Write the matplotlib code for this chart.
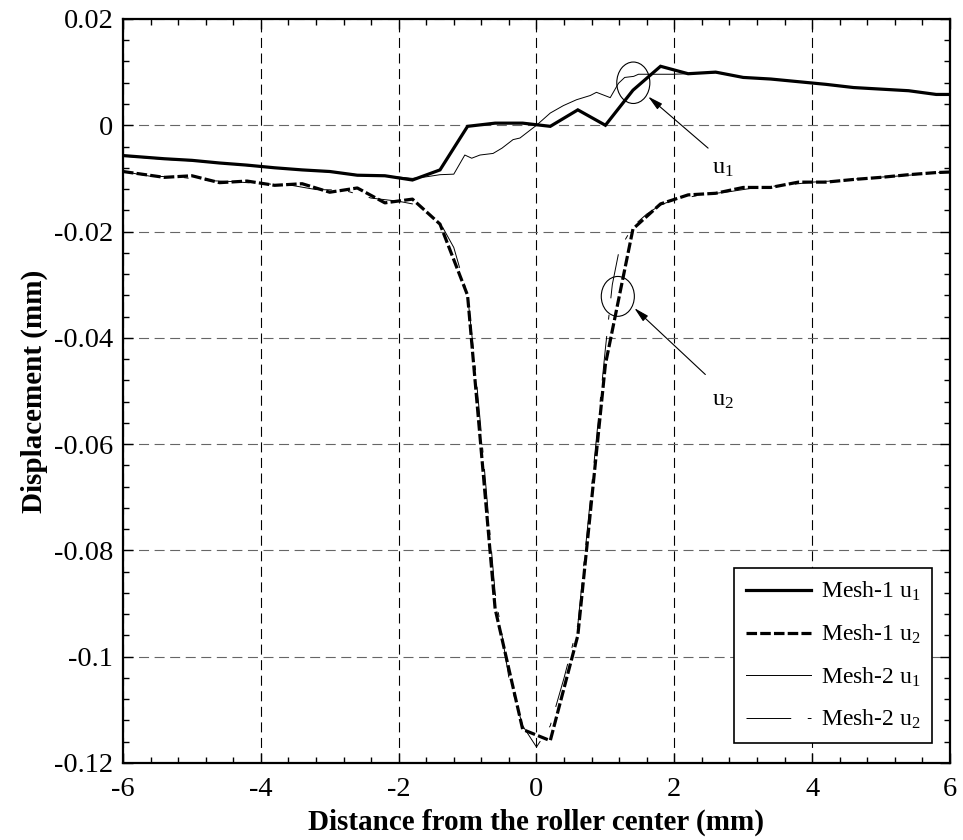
import matplotlib
matplotlib.use("Agg")
import matplotlib.pyplot as plt
from matplotlib.patches import Ellipse

plt.rcParams['font.family'] = ['Liberation Serif', 'DejaVu Serif']
plt.rcParams['mathtext.fontset'] = 'custom'
plt.rcParams['mathtext.rm'] = 'Liberation Serif'
plt.rcParams['mathtext.it'] = 'Liberation Serif'

# ---------------- data ----------------
x_m1 = [-6.0, -5.4, -5.0, -4.6, -4.2, -3.8, -3.4, -3.0, -2.6, -2.2, -1.8, -1.4, -1.0, -0.6, -0.2,
        0.2, 0.6, 1.0, 1.4, 1.8, 2.2, 2.6, 3.0, 3.4, 3.8, 4.2, 4.6, 5.0, 5.4, 5.8, 6.0]
m1_u1 = [-0.0057, -0.0063, -0.0066, -0.0071, -0.0075, -0.0080, -0.0084, -0.0087, -0.0094, -0.0095,
         -0.0103, -0.0084, -0.0002, 0.0004, 0.0004, -0.0002, 0.0029, 0.0000, 0.0066, 0.0111,
         0.0097, 0.0100, 0.0090, 0.0087, 0.0082, 0.0077, 0.0071, 0.0068, 0.0065, 0.0058, 0.0058]
m1_u2 = [-0.0087, -0.0098, -0.0095, -0.0108, -0.0105, -0.0113, -0.0110, -0.0126, -0.0118, -0.0146,
         -0.0139, -0.0186, -0.0320, -0.0910, -0.1137, -0.1158, -0.0960, -0.0450, -0.0195, -0.0148,
         -0.0131, -0.0128, -0.0117, -0.0117, -0.0107, -0.0107, -0.0102, -0.0098, -0.0093, -0.0089, -0.0088]

x_m2_u1 = [-6.0, -5.4, -5.0, -4.6, -4.2, -3.8, -3.4, -3.0, -2.6, -2.2, -1.8, -1.6, -1.4, -1.2,
           -1.04, -0.94, -0.82, -0.63, -0.5, -0.34, -0.24, 0.0, 0.2, 0.39, 0.58, 0.78, 0.87,
           1.07, 1.19, 1.28, 1.41, 1.48, 1.62, 1.98, 2.2, 2.6, 3.0, 3.4, 3.8, 4.2, 4.6, 5.0,
           5.4, 5.8, 6.0]
m2_u1 = [-0.0058, -0.0064, -0.0067, -0.0071, -0.0076, -0.0080, -0.0084, -0.0088, -0.0093, -0.0095,
         -0.0100, -0.0097, -0.0093, -0.0092, -0.0056, -0.0062, -0.0056, -0.0053, -0.0043, -0.0027,
         -0.0024, 0.0000, 0.0023, 0.0037, 0.0048, 0.0056, 0.0062, 0.0052, 0.0079, 0.0090, 0.0092,
         0.0096, 0.0096, 0.0096, 0.0097, 0.0099, 0.0090, 0.0087, 0.0082, 0.0077, 0.0071, 0.0068,
         0.0065, 0.0058, 0.0058]

x_m2_u2 = [-6.0, -5.6, -5.2, -4.8, -4.4, -4.0, -3.6, -3.2, -2.8, -2.4, -2.0, -1.8, -1.6, -1.4,
           -1.2, -1.0, -0.9, -0.8, -0.6, -0.4, -0.2, 0.0, 0.2, 0.4, 0.6, 0.8, 1.0, 1.1, 1.2,
           1.4, 1.6, 1.8, 2.0, 2.4, 2.8, 3.2, 3.6, 4.0, 4.4, 4.8, 5.2, 5.6, 6.0]
m2_u2 = [-0.0087, -0.0096, -0.0097, -0.0104, -0.0106, -0.0110, -0.0112, -0.0121, -0.0122, -0.0137,
         -0.0143, -0.0148, -0.0162, -0.0183, -0.0230, -0.0320, -0.0440, -0.0580, -0.0880, -0.1040,
         -0.1130, -0.1170, -0.1130, -0.1040, -0.0940, -0.0680, -0.0420, -0.0300, -0.0235, -0.0190,
         -0.0167, -0.0150, -0.0140, -0.0131, -0.0125, -0.0117, -0.0113, -0.0107, -0.0104, -0.0099,
         -0.0096, -0.0092, -0.0087]

x_ticks = [-6, -4, -2, 0, 2, 4, 6]
y_ticks = [0.02, 0, -0.02, -0.04, -0.06, -0.08, -0.1, -0.12]
y_tick_labels = ['0.02', '0', '-0.02', '-0.04', '-0.06', '-0.08', '-0.1', '-0.12']
legend_labels = [r'Mesh-1 u$_{1}$', r'Mesh-1 u$_{2}$', r'Mesh-2 u$_{1}$', r'Mesh-2 u$_{2}$']

# ---------------- figure ----------------
fig = plt.figure(figsize=(9.63, 8.4), dpi=100)
ax = fig.add_axes([0.1277, 0.0917, 0.8588, 0.8857])

l1, = ax.plot(x_m1, m1_u1, color='k', lw=2.3, solid_joinstyle='miter', zorder=4)
l2, = ax.plot(x_m1, m1_u2, color='k', lw=2.3, dashes=(3.3, 1.0), zorder=4)
l3, = ax.plot(x_m2_u1, m2_u1, color='k', lw=0.7, zorder=5)
l4, = ax.plot(x_m2_u2, m2_u2, color='k', lw=0.7, dashes=(46, 17, 5, 17), zorder=5)

ax.set_xlim(-6, 6)
ax.set_ylim(-0.12, 0.02)
ax.set_xticks(x_ticks)
ax.set_xticklabels([str(v) for v in x_ticks])
ax.set_yticks(y_ticks)
ax.set_yticklabels(y_tick_labels)
ax.xaxis.set_minor_locator(matplotlib.ticker.MultipleLocator(0.4))
ax.yaxis.set_minor_locator(matplotlib.ticker.MultipleLocator(0.004))
ax.tick_params(which='both', direction='in', top=True, right=True, labelsize=20.5, width=1.0)
ax.tick_params(axis='x', which='major', pad=10)
ax.tick_params(axis='y', which='major', pad=7)
ax.tick_params(which='major', length=7)
ax.tick_params(which='minor', length=4)
for s in ax.spines.values():
    s.set_linewidth(1.6)

ax.xaxis.grid(True, color='k', linestyle=(0, (9, 5)), lw=0.8)
ax.yaxis.grid(True, color='#666666', linestyle=(0, (9, 5)), lw=0.8)
ax.set_axisbelow(True)

ax.set_xlabel('Distance from the roller center (mm)', fontsize=21, fontweight='bold', labelpad=5)
ax.set_ylabel('Displacement (mm)', fontsize=21, fontweight='bold', labelpad=4)

# annotations
ax.add_patch(Ellipse((1.405, 0.0080), 0.48, 0.0078, fill=False, color='k', lw=0.8, zorder=6))
ax.add_patch(Ellipse((1.18, -0.0322), 0.48, 0.0075, fill=False, color='k', lw=0.8, zorder=6))
ap = dict(arrowstyle='-|>,head_length=0.9,head_width=0.22', color='k', lw=0.8, shrinkA=0, shrinkB=0)
ax.annotate('', xy=(1.62, 0.0054), xytext=(2.49, -0.0043), arrowprops=ap, zorder=6)
ax.annotate('', xy=(1.42, -0.0344), xytext=(2.45, -0.0469), arrowprops=ap, zorder=6)
ax.text(2.55, -0.0081, r'u$_{1}$', fontsize=17.5, ha='left', va='center')
ax.text(2.55, -0.0517, r'u$_{2}$', fontsize=17.5, ha='left', va='center')

leg = ax.legend([l1, l2, l3, l4], legend_labels, loc='lower right',
                bbox_to_anchor=(0.978, 0.0265), fontsize=17, handlelength=2.75,
                handletextpad=0.4, labelspacing=0.82, borderpad=0.5, fancybox=False,
                framealpha=1, edgecolor='k', borderaxespad=0)
leg.get_frame().set_linewidth(1.2)

fig.savefig('out.png', dpi=100)
